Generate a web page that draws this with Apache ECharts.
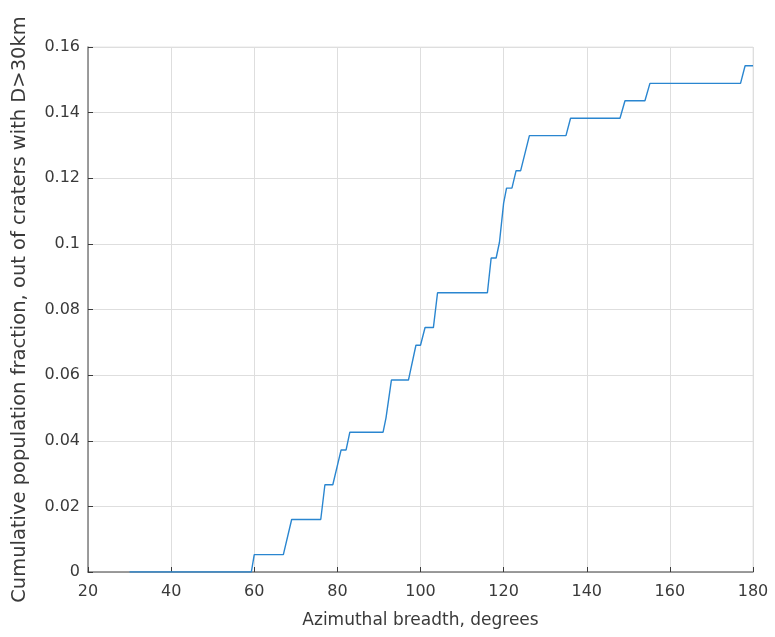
<!DOCTYPE html>
<html>
<head>
<meta charset="utf-8">
<script src="https://cdn.jsdelivr.net/npm/echarts@6/dist/echarts.min.js"></script>
<style>
  html, body { margin: 0; padding: 0; background: #fff; }
  #chart { width: 775px; height: 637px; }
</style>
</head>
<body>
<div id="chart"></div>
<script>
// azimuthal breadth (deg) and cumulative fraction
const breadth = [30, 59.3, 60, 67, 69, 76, 77, 78.9, 80.9, 82.1, 83, 91, 91.7, 93, 97.1, 98.9, 100, 101.1, 103.1, 104.1,
  116.1, 117, 118.2, 119, 120, 120.7, 122, 123, 124.1, 126.2, 135, 136.1, 148, 149.2, 154, 155.2, 177, 178.1, 180];
const fraction = [0, 0, 0.0053, 0.0053, 0.016, 0.016, 0.0266, 0.0266, 0.0372, 0.0372, 0.0426, 0.0426, 0.047, 0.0585,
  0.0585, 0.0691, 0.0691, 0.0745, 0.0745, 0.0851, 0.0851, 0.0957, 0.0957, 0.1005, 0.1124, 0.117, 0.117, 0.1223, 0.1223,
  0.133, 0.133, 0.1383, 0.1383, 0.1436, 0.1436, 0.1489, 0.1489, 0.1543, 0.1543];

const font = 'DejaVu Sans, Verdana, sans-serif';
const ink = '#3a3a3a';

const chart = echarts.init(document.getElementById('chart'));
chart.setOption({
  animation: false,
  grid: {
    left: 88, right: 22, top: 47, bottom: 65,
    show: true, borderColor: '#e6e6e6', borderWidth: 1
  },
  xAxis: {
    type: 'value',
    min: 20, max: 180, interval: 20,
    name: 'Azimuthal breadth, degrees',
    nameLocation: 'middle', nameGap: 40,
    nameTextStyle: { fontFamily: font, fontSize: 17, color: ink },
    axisLine: { lineStyle: { color: '#808080', width: 1.5 } },
    axisTick: { inside: true, length: 5, lineStyle: { color: ink } },
    axisLabel: { fontFamily: font, fontSize: 16, color: ink, margin: 12 },
    splitLine: { show: true, lineStyle: { color: '#dedede', width: 1 } }
  },
  yAxis: {
    type: 'value',
    min: 0, max: 0.16, interval: 0.02,
    name: 'Cumulative population fraction, out of craters with D>30km',
    nameLocation: 'middle', nameGap: 58,
    nameTextStyle: { fontFamily: font, fontSize: 19.5, color: ink },
    axisLine: { show: true, lineStyle: { color: '#808080', width: 1.5 } },
    axisTick: { show: true, inside: true, length: 5, lineStyle: { color: ink } },
    axisLabel: { fontFamily: font, fontSize: 16, color: ink, margin: 8 },
    splitLine: { show: true, lineStyle: { color: '#dedede', width: 1 } }
  },
  series: [{
    type: 'line',
    data: breadth.map((b, i) => [b, fraction[i]]),
    showSymbol: false,
    lineStyle: { color: '#2a86d0', width: 1.4 },
    z: 5
  }]
});
</script>
</body>
</html>
